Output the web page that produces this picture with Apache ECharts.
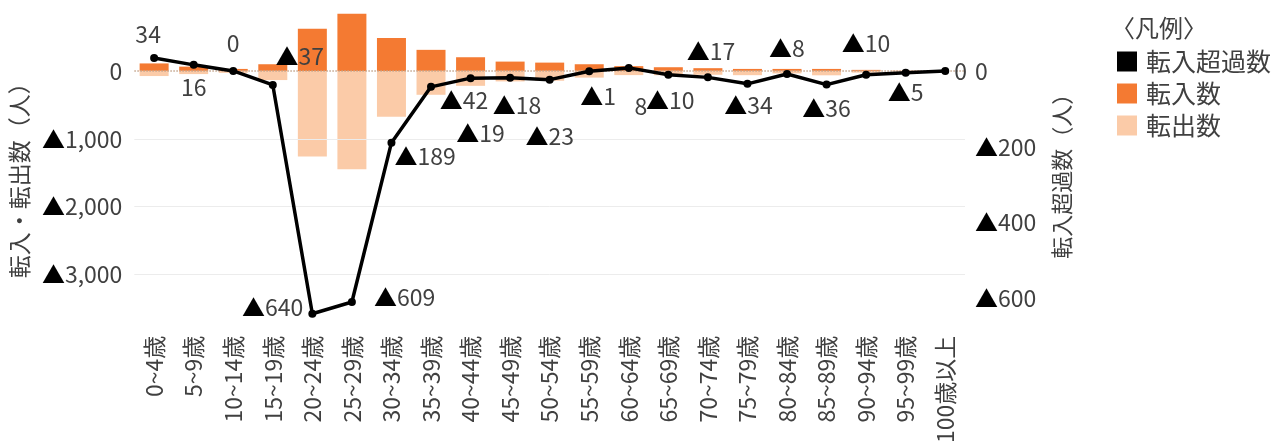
<!DOCTYPE html>
<html lang="ja">
<head>
<meta charset="utf-8">
<title>年齢別 転入・転出数</title>
<script src="https://cdn.jsdelivr.net/npm/echarts@6/dist/echarts.min.js"></script>
<style>
  html, body { margin: 0; padding: 0; background: #fff; }
  #chart { width: 1285px; height: 446px; }
</style>
</head>
<body>
<div id="chart"></div>
<script>
const categories = [
  "0~4歳", "5~9歳", "10~14歳", "15~19歳", "20~24歳", "25~29歳", "30~34歳",
  "35~39歳", "40~44歳", "45~49歳", "50~54歳", "55~59歳", "60~64歳", "65~69歳",
  "70~74歳", "75~79歳", "80~84歳", "85~89歳", "90~94歳", "95~99歳", "100歳以上"
];
const inflow = [110, 63, 29, 98, 620, 840, 485, 310, 201, 137, 122, 98, 70, 54, 40, 29, 29, 29, 15, 3, 0];
const outflow = [-76, -47, -29, -135, -1260, -1449, -674, -352, -220, -155, -145, -99, -62, -64, -57, -63, -37, -65, -25, -8, 0];
const netInflow = [34, 16, 0, -37, -640, -609, -189, -42, -19, -18, -23, -1, 8, -10, -17, -34, -8, -36, -10, -5, 0];
const leftTicks = [0, -1000, -2000, -3000];
const rightTicks = [0, -200, -400, -600];

// ラベルの置き場所（位置, x方向ずらし, y方向ずらし）
const labelPlace = [
  ["top", -6, -3], ["bottom", 0, 2], ["top", 0, -7], ["top", 27, -8],
  ["left", 0, -7], ["right", 13, -5], ["right", -6, 14], ["bottom", 33, -7],
  ["bottom", 10, 35], ["bottom", 7, 7], ["bottom", 0, 36], ["bottom", 9, 4],
  ["bottom", 12, 18], ["bottom", 2, 5], ["top", 3, -6], ["bottom", 1, 1],
  ["top", 0, -5], ["bottom", 0, 3], ["top", 0, -11], ["bottom", 0, -1],
  ["right", 0, 0]
];

const FONT = '"Noto Sans CJK JP", "Noto Sans", sans-serif';
const TEXT = "#404040";

const rich = {
  t: { color: "#000", fontSize: 23, fontFamily: FONT },
  n: { color: TEXT, fontSize: 23, fontFamily: FONT }
};

// マイナスは▲表記
const tri = v => {
  if (v < 0) return "{t|▲}{n|" + Math.abs(v).toLocaleString("en-US") + "}";
  return "{n|" + v.toLocaleString("en-US") + "}";
};

const myChart = echarts.init(document.getElementById("chart"));

const option = {
  animation: false,
  textStyle: { fontFamily: FONT },
  title: {
    text: "〈凡例〉",
    left: 1106,
    top: 11,
    textStyle: { fontSize: 24, fontWeight: "normal", color: TEXT, fontFamily: FONT }
  },
  legend: {
    orient: "vertical",
    left: 1112,
    top: 44,
    itemWidth: 20,
    itemHeight: 20,
    itemGap: 7,
    textStyle: { fontSize: 25, color: TEXT, fontFamily: FONT, padding: [0, 0, 0, 4] },
    data: [
      { name: "転入超過数", icon: "rect" },
      { name: "転入数", icon: "rect" },
      { name: "転出数", icon: "rect" }
    ]
  },
  grid: {
    left: 130,
    right: 320,
    top: 3,
    bottom: 127
  },
  xAxis: {
    type: "category",
    data: categories,
    axisLine: { show: false, onZero: false },
    axisTick: { show: false },
    axisLabel: { rotate: 90, interval: 0, fontSize: 23, color: TEXT, margin: 17 }
  },
  yAxis: [
    {
      type: "value",
      min: -3650,
      max: 1000,
      axisLine: { show: false },
      axisTick: { show: false },
      splitLine: { show: false },
      axisLabel: {
        customValues: leftTicks,
        formatter: tri,
        rich: rich,
        margin: 12
      },
      name: "転入・転出数（人）",
      nameLocation: "middle",
      nameRotate: 90,
      nameGap: 98,
      nameTextStyle: { fontSize: 23, color: TEXT, fontFamily: FONT, padding: [0, 28, 0, 0] }
    },
    {
      type: "value",
      position: "right",
      min: -653,
      max: 179,
      axisLine: { show: false },
      axisTick: { show: false },
      splitLine: { show: false },
      axisLabel: {
        customValues: rightTicks,
        formatter: tri,
        rich: rich,
        margin: 10
      },
      name: "転入超過数（人）",
      nameLocation: "middle",
      nameRotate: 90,
      nameGap: 86,
      nameTextStyle: { fontSize: 22, color: TEXT, fontFamily: FONT, padding: [0, 20, 0, 0] }
    }
  ],
  series: [
    {
      name: "転入数",
      type: "bar",
      stack: "flow",
      barWidth: 29,
      itemStyle: { color: "#F47A32" },
      data: inflow,
      markLine: {
        silent: true,
        symbol: "none",
        label: { show: false },
        lineStyle: { color: "#ececec", type: "solid", width: 1 },
        data: [
          { yAxis: 0, lineStyle: { color: "#c4a48c", type: "dotted", width: 1.5 } },
          { yAxis: -1000 },
          { yAxis: -2000 },
          { yAxis: -3000 }
        ]
      }
    },
    {
      name: "転出数",
      type: "bar",
      stack: "flow",
      barWidth: 29,
      itemStyle: { color: "#FBCBA8" },
      data: outflow
    },
    {
      name: "転入超過数",
      type: "line",
      yAxisIndex: 1,
      z: 5,
      symbol: "circle",
      symbolSize: 8,
      itemStyle: { color: "#000" },
      lineStyle: { color: "#000", width: 3.5 },
      label: {
        show: true,
        formatter: p => tri(p.value),
        rich: rich
      },
      data: netInflow.map((v, i) => ({
        value: v,
        label: { position: labelPlace[i][0], offset: [labelPlace[i][1], labelPlace[i][2]] }
      }))
    }
  ]
};

myChart.setOption(option);
</script>
</body>
</html>
